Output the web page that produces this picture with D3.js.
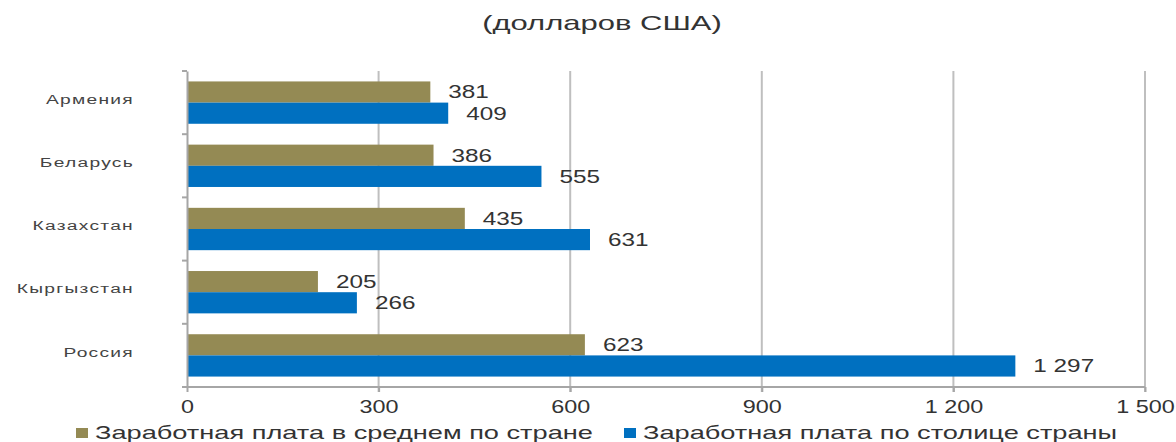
<!DOCTYPE html>
<html>
<head>
<meta charset="utf-8">
<script src="https://cdn.jsdelivr.net/npm/d3@7"></script>
<style>
  body { margin: 0; background: #fff; }
  text { font-family: "Liberation Sans", Arial, sans-serif; }
</style>
</head>
<body>
<div id="chart"></div>
<script>
// данные
const countries = ["Армения", "Беларусь", "Казахстан", "Кыргызстан", "Россия"];
const avgCountry = [381, 386, 435, 205, 623];
const avgCapital = [409, 555, 631, 266, 1297];
const seriesNames = ["Заработная плата в среднем по стране", "Заработная плата по столице страны"];
const xTicks = [0, 300, 600, 900, 1200, 1500];
const colors = ["#948A54", "#0070C0"];

const W = 1176, H = 442;
const margin = {top: 71, right: 31, bottom: 55, left: 187};
const width = W - margin.left - margin.right;
const height = H - margin.top - margin.bottom;

// текст в исходнике растянут по горизонтали
const stretch = 1.3;
const fmt = v => d3.format(",")(v).replace(/,/g, " ");

const svg = d3.select("#chart").append("svg")
    .attr("width", W)
    .attr("height", H);

// заголовок
svg.append("text")
    .attr("transform", `translate(602,30) scale(1.55,1)`)
    .attr("text-anchor", "middle")
    .attr("font-size", 20)
    .attr("fill", "#333")
    .text("(долларов США)");

const g = svg.append("g")
    .attr("transform", `translate(${margin.left},${margin.top})`);

const x = d3.scaleLinear().domain([0, 1500]).range([0, width]);
const y = d3.scaleBand().domain(countries).range([0, height]).paddingInner(0.33).paddingOuter(0.165);
const inner = d3.scaleBand().domain([0, 1]).range([0, y.bandwidth()]);

// сетка
g.selectAll(".grid")
    .data(xTicks.slice(1))
    .enter()
    .append("line")
    .attr("x1", d => x(d)).attr("x2", d => x(d))
    .attr("y1", 0).attr("y2", height + 5)
    .attr("stroke", "#bfbfbf")
    .attr("stroke-width", 2);

// столбцы
const rows = countries.map((c, i) => ({c, vals: [avgCountry[i], avgCapital[i]]}));
const grp = g.selectAll(".grp")
    .data(rows)
    .enter()
    .append("g")
    .attr("transform", d => `translate(0,${y(d.c)})`);

grp.selectAll("rect")
    .data(d => d.vals.map((v, k) => ({v, k})))
    .enter()
    .append("rect")
    .attr("x", 1)
    .attr("y", d => inner(d.k))
    .attr("width", d => x(d.v) - 1)
    .attr("height", inner.bandwidth())
    .attr("fill", d => colors[d.k]);

grp.selectAll(".lbl")
    .data(d => d.vals.map((v, k) => ({v, k})))
    .enter()
    .append("text")
    .attr("transform", d => `translate(${x(d.v) + 18},${inner(d.k) + inner.bandwidth() / 2}) scale(1.35,1)`)
    .attr("dy", "0.36em")
    .attr("font-size", 18)
    .attr("fill", "#333")
    .text(d => fmt(d.v));

// ось Y
const yAxis = g.append("g")
    .call(d3.axisLeft(y).tickValues([]).tickSizeOuter(0));
yAxis.select(".domain").attr("stroke", "#a6a6a6").attr("stroke-width", 2);
g.selectAll(".ytick")
    .data(d3.range(countries.length + 1))
    .enter()
    .append("line")
    .attr("x1", -5).attr("x2", 0)
    .attr("y1", d => d * y.step())
    .attr("y2", d => d * y.step())
    .attr("stroke", "#a6a6a6")
    .attr("stroke-width", 2);

g.selectAll(".cat")
    .data(countries)
    .enter()
    .append("text")
    .attr("transform", d => `translate(-53,${y(d) + y.bandwidth() / 2 - 3}) scale(1.6,1)`)
    .attr("dy", "0.35em")
    .attr("text-anchor", "end")
    .attr("font-size", 12)
    .attr("letter-spacing", 0.8)
    .attr("fill", "#444")
    .text(d => d);

// ось X
const xAxis = g.append("g")
    .attr("transform", `translate(0,${height})`)
    .call(d3.axisBottom(x).tickValues(xTicks).tickSize(5).tickFormat(fmt));
xAxis.select(".domain").attr("stroke", "#a6a6a6").attr("stroke-width", 2).attr("d", `M-5,0H${width}`);
xAxis.selectAll(".tick line").attr("stroke", "#a6a6a6").attr("stroke-width", 2);
xAxis.selectAll(".tick text")
    .attr("font-size", 18)
    .attr("fill", "#333")
    .attr("y", 13)
    .attr("transform", `scale(${stretch},1)`);

// легенда
const legendX = [76, 624];
const leg = svg.selectAll(".leg")
    .data(seriesNames)
    .enter()
    .append("g")
    .attr("transform", (d, i) => `translate(${legendX[i]},0)`);
leg.append("rect")
    .attr("x", 0).attr("y", 428)
    .attr("width", 12).attr("height", 10)
    .attr("fill", (d, i) => colors[i]);
leg.append("text")
    .attr("transform", `translate(19,439) scale(1.47,1)`)
    .attr("font-size", 18.5)
    .attr("fill", "#333")
    .text(d => d);
</script>
</body>
</html>
